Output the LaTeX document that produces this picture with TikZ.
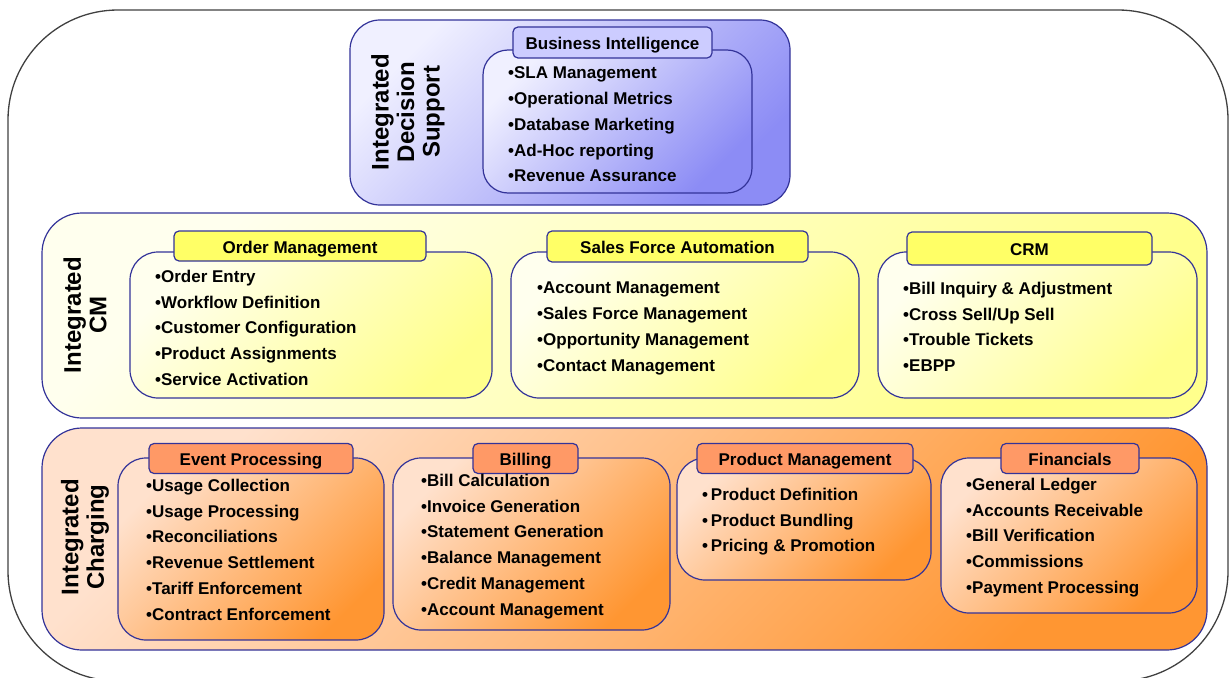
\documentclass[tikz,border=0pt]{standalone}
\usepackage{fontspec}
\setmainfont{Liberation Sans}
\usepackage{xcolor}

\definecolor{boxblue}{RGB}{51,51,153}
\definecolor{dsLight}{RGB}{240,240,255}
\definecolor{dsDark}{RGB}{140,140,245}
\definecolor{dsTab}{RGB}{204,204,255}
\definecolor{cmLight}{RGB}{255,255,238}
\definecolor{cmDark}{RGB}{255,255,140}
\definecolor{cmTab}{RGB}{255,255,102}
\definecolor{chLight}{RGB}{255,225,205}
\definecolor{chDark}{RGB}{255,150,50}
\definecolor{chTab}{RGB}{255,153,102}

\begin{document}
\begin{tikzpicture}[x=1pt, y=-1pt,
    frame/.style={draw=boxblue, line width=1.2pt, inner sep=0pt},
    band/.style={frame, rounded corners=40pt},
    panel/.style={frame, rounded corners=28pt},
    lilac/.style={top color=dsLight, bottom color=dsDark, shading angle=45},
    lemon/.style={top color=cmLight, bottom color=cmDark, shading angle=45},
    peach/.style={top color=chLight, bottom color=chDark, shading angle=45},
    tab/.style={frame, rounded corners=5pt, minimum height=30pt, text height=14pt, text depth=0pt, font=\fontsize{17}{20}\selectfont\bfseries},
    items/.style={anchor=north west, inner sep=0pt, align=left, font=\fontsize{17}{25.8}\selectfont\bfseries},
    side/.style={rotate=90, align=center, inner sep=0pt, font=\fontsize{24}{25.5}\selectfont\bfseries}]

    \useasboundingbox (0,0) rectangle (1230,677);

    % outer frame
    \node[draw=black!75, line width=1.3pt, rounded corners=110pt, minimum width=1220pt, minimum height=671pt] (all) at (618,345.5) {};

    % decision support
    \node[frame, lilac, rounded corners=30pt, minimum width=440pt, minimum height=185pt] (ids) at (570,112.5) {};
    \node[frame, lilac, rounded corners=25pt, minimum width=269pt, minimum height=143pt] (bi) at (617.5,121.5) {};
    \node[tab, fill=dsTab, minimum width=199pt, minimum height=31pt] (bit) at (612.5,42.5) {Business Intelligence};
    \node[items] (bil) at (508,66.7) {•SLA Management\\•Operational Metrics\\•Database Marketing\\•Ad-Hoc reporting\\•Revenue Assurance};
    \node[side] (idsl) at (408,112) {Integrated\\Decision\\Support};

    % customer management
    \node[band, lemon, minimum width=1165pt, minimum height=205pt] (cm) at (624.5,315.5) {};
    \node[panel, lemon, minimum width=362pt, minimum height=146pt] (om) at (311,325) {};
    \node[panel, lemon, minimum width=348pt, minimum height=146pt] (sfa) at (685,325) {};
    \node[panel, lemon, minimum width=319pt, minimum height=146pt] (crm) at (1037.5,325) {};
    \node[tab, fill=cmTab, minimum width=252pt] (omt) at (300,246) {Order Management};
    \node[tab, fill=cmTab, minimum width=261pt, minimum height=31pt] (sfat) at (677.5,246.5) {Sales Force Automation};
    \node[tab, fill=cmTab, minimum width=245pt, minimum height=33pt] (crmt) at (1029.5,248.5) {CRM};
    \node[items] (oml) at (155,269.7) {•Order Entry\\•Workflow Definition\\•Customer Configuration\\•Product Assignments\\•Service Activation};
    \node[items] (sfal) at (537,281.7) {•Account Management\\•Sales Force Management\\•Opportunity Management\\•Contact Management};
    \node[items] (crml) at (903,281.7) {•Bill Inquiry \& Adjustment\\•Cross Sell/Up Sell\\•Trouble Tickets\\•EBPP};
    \node[side] (cml) at (85,315) {Integrated\\CM};

    % charging
    \node[band, peach, minimum width=1165pt, minimum height=222pt] (ch) at (624.5,539) {};
    \node[panel, peach, minimum width=266pt, minimum height=182pt] (ep) at (251,549) {};
    \node[panel, peach, minimum width=277pt, minimum height=172pt] (bl) at (531.5,544) {};
    \node[panel, peach, minimum width=254pt, minimum height=122pt] (pm) at (804,519) {};
    \node[panel, peach, minimum width=256pt, minimum height=155pt] (fin) at (1069,535.5) {};
    \node[tab, fill=chTab, minimum width=204pt] (ept) at (251,458.5) {Event Processing};
    \node[tab, fill=chTab, minimum width=105pt] (blt) at (525.5,458.5) {Billing};
    \node[tab, fill=chTab, minimum width=216pt] (pmt) at (805,458.5) {Product Management};
    \node[tab, fill=chTab, minimum width=138pt] (fint) at (1070,458.5) {Financials};
    \node[items] (epl) at (146,478.7) {•Usage Collection\\•Usage Processing\\•Reconciliations\\•Revenue Settlement\\•Tariff Enforcement\\•Contract Enforcement};
    \node[items] (bll) at (421,473.7) {•Bill Calculation\\•Invoice Generation\\•Statement Generation\\•Balance Management\\•Credit Management\\•Account Management};
    \node[items] (pml) at (702,487.7) {•\,Product Definition\\•\,Product Bundling\\•\,Pricing \& Promotion};
    \node[items] (finl) at (966,477.7) {•General Ledger\\•Accounts Receivable\\•Bill Verification\\•Commissions\\•Payment Processing};
    \node[side] (chl) at (85,537) {Integrated\\Charging};

\end{tikzpicture}
\end{document}
